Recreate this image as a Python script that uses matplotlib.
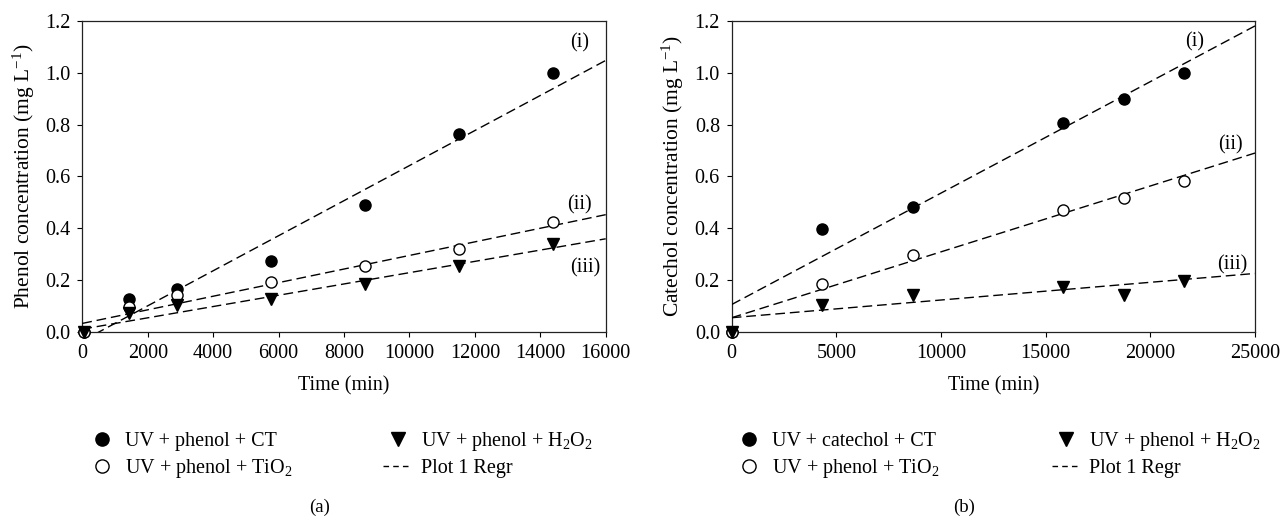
import matplotlib
matplotlib.use("Agg")
import matplotlib.pyplot as plt
from matplotlib.lines import Line2D
import numpy as np

plt.rcParams['font.family'] = ['Liberation Serif', 'DejaVu Serif']
plt.rcParams['mathtext.fontset'] = 'custom'
plt.rcParams['mathtext.rm'] = 'Liberation Serif'
plt.rcParams['mathtext.it'] = 'Liberation Serif:italic'
plt.rcParams['mathtext.default'] = 'regular'

# ---- Panel (a): phenol ----
time_a = [60, 1440, 2880, 5760, 8640, 11520, 14400]
ct_a = [0.0, 0.128, 0.163, 0.272, 0.488, 0.762, 1.0]
tio2_a = [0.0, 0.095, 0.140, 0.193, 0.253, 0.320, 0.423]
h2o2_a = [0.0, 0.073, 0.105, 0.125, 0.183, 0.252, 0.340]
# regression lines (intercept, slope)
regr_a = [(-0.0355, 6.77e-5), (0.032, 2.625e-5), (0.010, 2.18e-5)]
regr_labels_a = ['(i)', '(ii)', '(iii)']
regr_label_pos_a = [(15200, 1.115), (15200, 0.49), (15380, 0.245)]
xticks_a = [0, 2000, 4000, 6000, 8000, 10000, 12000, 14000, 16000]

# ---- Panel (b): catechol ----
time_b = [0, 4320, 8640, 15840, 18720, 21600]
ct_b = [0.0, 0.395, 0.481, 0.806, 0.898, 1.0]
tio2_b = [0.0, 0.186, 0.296, 0.469, 0.518, 0.582]
h2o2_b = [0.0, 0.105, 0.140, 0.173, 0.140, 0.195]
regr_b = [(0.105, 4.304e-5), (0.054, 2.544e-5), (0.054, 6.84e-6)]
regr_labels_b = ['(i)', '(ii)', '(iii)']
regr_label_pos_b = [(22100, 1.12), (23830, 0.72), (23930, 0.26)]
xticks_b = [0, 5000, 10000, 15000, 20000, 25000]

yticks = [0.0, 0.2, 0.4, 0.6, 0.8, 1.0, 1.2]

W, H = 1281, 519
fig = plt.figure(figsize=(W / 100, H / 100), dpi=100)

FS = 14.5
MS = 8.0
LMS = 9.5


def panel(rect, t, ct, tio2, h2o2, regr, rlabels, rpos, xticks, xmax, ylabel,
          leg_labels, leg_anchor, colspace, caption, caption_x):
    ax = fig.add_axes(rect)
    ax.plot(t, ct, 'o', color='black', ms=MS, clip_on=False, zorder=4)
    ax.plot(t, tio2, 'o', mfc='white', mec='black', mew=1.0, ms=MS, clip_on=False, zorder=4)
    ax.plot(t, h2o2, 'v', color='black', ms=MS, clip_on=False, zorder=4)
    xx = np.array([0, xmax])
    for (b0, b1), lab, (lx, ly) in zip(regr, rlabels, rpos):
        ax.plot(xx, b0 + b1 * xx, color='black', lw=1.0, ls=(0, (7, 3.5)), zorder=3)
        ax.text(lx, ly, lab, fontsize=FS, ha='center', va='center')
    ax.set_xlim(0, xmax)
    ax.set_ylim(0, 1.2)
    ax.set_xticks(xticks)
    ax.set_yticks(yticks)
    ax.set_yticklabels([f'{v:.1f}' for v in yticks])
    ax.tick_params(direction='out', length=3.5, width=0.8, labelsize=FS, pad=5)
    for s in ax.spines.values():
        s.set_linewidth(0.9)
        s.set_color('#222222')
    ax.set_xlabel('Time (min)', fontsize=FS, labelpad=10)
    ax.set_ylabel(ylabel, fontsize=FS + 1, labelpad=6)
    handles = [
        Line2D([], [], marker='o', ls='none', color='black', ms=LMS),
        Line2D([], [], marker='o', ls='none', mfc='white', mec='black', ms=LMS),
        Line2D([], [], marker='v', ls='none', color='black', ms=LMS),
        Line2D([], [], color='black', lw=1.0, ls=(0, (4, 3))),
    ]
    fig.legend(handles, leg_labels, ncol=2, loc='center left',
               bbox_to_anchor=leg_anchor, frameon=False, fontsize=FS,
               handlelength=1.4, handletextpad=0.45, columnspacing=colspace,
               labelspacing=0.3, borderaxespad=0)
    fig.text(caption_x, 1 - 507 / H, caption, fontsize=FS - 1,
             ha='center', va='center')
    return ax


bottom = (H - 331.7) / H
height = (331.7 - 21) / H
panel([82.3 / W, bottom, 523.4 / W, height], time_a, ct_a, tio2_a, h2o2_a,
      regr_a, regr_labels_a, regr_label_pos_a, xticks_a, 16000,
      'Phenol concentration (mg L$^{-1}$)',
      ['UV + phenol + CT', 'UV + phenol + TiO$_2$', 'UV + phenol + H$_2$O$_2$', 'Plot 1 Regr'],
      (80 / W, 1 - 455 / H), 4.5, '(a)', 320 / W)
panel([731.7 / W, bottom, 523.3 / W, height], time_b, ct_b, tio2_b, h2o2_b,
      regr_b, regr_labels_b, regr_label_pos_b, xticks_b, 25000,
      'Catechol concentration (mg L$^{-1}$)',
      ['UV + catechol + CT', 'UV + phenol + TiO$_2$', 'UV + phenol + H$_2$O$_2$', 'Plot 1 Regr'],
      (727 / W, 1 - 455 / H), 5.55, '(b)', 964 / W)

fig.savefig('out.png', dpi=100)
